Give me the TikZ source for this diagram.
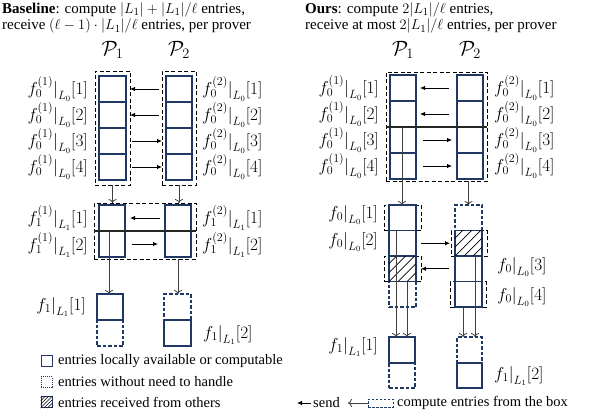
\documentclass[tikz,border=0pt]{standalone}
\usepackage{fontspec}
\setmainfont{Liberation Serif}
\usetikzlibrary{arrows.meta}
\definecolor{navy}{RGB}{32,56,100}
\newcommand{\hatchcell}[2]{%
  \begin{scope}
    \clip (#1.south west) rectangle (#1.north east);
    \foreach \k in {-5,...,5} \draw[line width=0.7pt] ([xshift={\k*#2}]#1.south west) -- ++(40,-40);
  \end{scope}}
\begin{document}
\begin{tikzpicture}[x=1pt,y=-1pt,
  cell/.style={draw=navy, line width=1.2pt, minimum width=27pt, minimum height=26pt, inner sep=0pt, outer sep=0pt},
  dcell/.style={cell, dash pattern=on 3.5pt off 2pt},
  grp/.style={draw=black, line width=0.8pt, dash pattern=on 4pt off 2.5pt, inner sep=0pt, outer sep=0pt},
  send/.style={-{Latex[length=5pt,width=4.5pt]}, line width=0.8pt},
  comp/.style={-{To[length=4pt,width=8pt]}, line width=0.8pt, draw=black!75},
  lab/.style={font=\fontsize{17}{19}\selectfont, inner sep=0pt},
  plab/.style={font=\fontsize{21}{22}\selectfont, inner sep=0pt},
  leg/.style={font=\fontsize{14.5}{16}\selectfont, inner sep=0pt},
  hdr/.style={font=\fontsize{15}{16}\selectfont, inner sep=0pt}]
\useasboundingbox (0,0) rectangle (613,417);

% ---------- headers ----------
\node[hdr, anchor=base west] (h1) at (2,13.5) {\textbf{Baseline}: compute $|L_1|+|L_1|/\ell$ entries,};
\node[hdr, anchor=base west] (h2) at (2,30) {receive $(\ell-1)\cdot|L_1|/\ell$ entries, per prover};
\node[hdr, anchor=base west] (h3) at (305,13.5) {\textbf{Ours}: compute $2|L_1|/\ell$ entries,};
\node[hdr, anchor=base west] (h4) at (305,30) {receive at most $2|L_1|/\ell$ entries, per prover};

% ---------- left: stage 1 ----------
\node[plab] (PA) at (112.5,50) {$\mathcal{P}_1$};
\node[plab] (PB) at (179,50) {$\mathcal{P}_2$};
\node[grp, minimum width=35pt, minimum height=114pt] (DA) at (112.5,128) {};
\node[grp, minimum width=34pt, minimum height=114pt] (DB) at (179,128) {};
\foreach \i/\y in {1/89,2/115,3/141,4/167} {
  \node[cell] (A\i) at (112.5,\y) {};
  \node[cell, minimum width=26pt] (B\i) at (179,\y) {};
  \node[lab, anchor=east] (la\i) at (88,\y) {$f_0^{(1)}\big|_{L_0}[\i]$};
  \node[lab, anchor=west] (lb\i) at (202,\y) {$f_0^{(2)}\big|_{L_0}[\i]$};
}
\draw[send, shorten <=3pt] (DB.west |- A1) -- (DA.east |- A1);
\draw[send, shorten <=3pt] (DB.west |- A2) -- (DA.east |- A2);
\draw[send, shorten <=2pt] (DA.east |- A3) -- (DB.west |- A3);
\draw[send, shorten <=2pt] (DA.east |- A4) -- (DB.west |- A4);

% ---------- left: stage 2 ----------
\node[grp, minimum width=102pt, minimum height=56pt] (E) at (145,231) {};
\node[cell, minimum width=26pt] (C1) at (112,218) {};
\node[cell, minimum width=26pt] (C2) at (112,244) {};
\node[cell, minimum width=26pt] (D1) at (178,218) {};
\node[cell, minimum width=26pt] (D2) at (178,244) {};
\draw[line width=1.2pt, black!85] (E.west) -- (E.east);
\draw[comp] (DA.south) -- (DA.south |- E.north);
\draw[comp] (DB.south) -- (DB.south |- E.north);
\draw[send, shorten <=5pt, shorten >=5pt] (D1.west) -- (C1.east);
\draw[send, shorten <=7pt, shorten >=7pt] (C2.east) -- (D2.west);
\node[lab, anchor=east] (lc1) at (88,218) {$f_1^{(1)}\big|_{L_1}[1]$};
\node[lab, anchor=east] (lc2) at (88,245) {$f_1^{(1)}\big|_{L_1}[2]$};
\node[lab, anchor=west] (ld1) at (202,218) {$f_1^{(2)}\big|_{L_1}[1]$};
\node[lab, anchor=west] (ld2) at (202,245) {$f_1^{(2)}\big|_{L_1}[2]$};

% ---------- left: result ----------
\node[dcell, minimum width=26pt] (F2) at (110,333) {};
\node[cell, minimum width=26pt] (F1) at (110,307) {};
\node[dcell] (G1) at (177.5,307) {};
\node[cell] (G2) at (177.5,333) {};
\coordinate (v1) at ([xshift=-3pt]C2.north);
\draw[comp] (v1) -- (v1 |- F1.north);
\coordinate (v2) at (E.south -| D2);
\draw[comp] (v2) -- (v2 |- G1.north);
\node[lab, anchor=east] (lf1) at (86,307) {$f_1\big|_{L_1}[1]$};
\node[lab, anchor=west] (lf2) at (203,335) {$f_1\big|_{L_1}[2]$};

% ---------- left legend ----------
\node[draw=navy, line width=1pt, minimum size=11pt, inner sep=0pt] (k1) at (46.5,361) {};
\node[leg, anchor=west] (t1) at (58,361) {entries locally available or computable};
\node[draw=navy, line width=0.9pt, dash pattern=on 1pt off 1pt, minimum size=11pt, inner sep=0pt] (k2) at (46.5,382) {};
\node[leg, anchor=west] (t2) at (58,382) {entries without need to handle};
\node[draw=navy, line width=1pt, minimum size=11pt, inner sep=0pt] (k3) at (46.5,402) {};
\hatchcell{k3}{3.5}
\node[leg, anchor=west] (t3) at (58,402) {entries received from others};

% ---------- right: stage 1 ----------
\node[plab] (PC) at (403,50) {$\mathcal{P}_1$};
\node[plab] (PD) at (470,50) {$\mathcal{P}_2$};
\node[grp, minimum width=101pt, minimum height=109pt] (T) at (436.5,126.5) {};
\foreach \i/\y in {1/88,2/114,3/140,4/166} {
  \node[cell, minimum width=26pt] (R\i) at (403,\y) {};
  \node[cell, minimum width=26pt] (S\i) at (470,\y) {};
  \node[lab, anchor=east] (lr\i) at (379,\y) {$f_0^{(1)}\big|_{L_0}[\i]$};
  \node[lab, anchor=west] (ls\i) at (494,\y) {$f_0^{(2)}\big|_{L_0}[\i]$};
}
\draw[line width=1.2pt, black!85] (T.west |- R3.north) -- (T.east |- R3.north);
\draw[send, shorten <=8pt, shorten >=4pt] (S1.west) -- (R1.east);
\draw[send, shorten <=8pt, shorten >=4pt] (S2.west) -- (R2.east);
\draw[send, shorten <=7pt, shorten >=5pt] (R3.east) -- (S3.west);
\draw[send, shorten <=7pt, shorten >=5pt] (R4.east) -- (S4.west);

% ---------- right: stage 2 ----------
\node[grp, minimum width=37pt, minimum height=25.5pt] (gU1) at (402.5,217.75) {};
\node[grp, minimum width=37pt, minimum height=25.5pt] (gU3) at (402.5,268.75) {};
\node[grp, minimum width=36pt, minimum height=25.5pt] (gV2) at (469,243.25) {};
\node[grp, minimum width=36pt, minimum height=25.5pt] (gV4) at (468,294.25) {};
\node[dcell, minimum height=25.5pt] (U4) at (402.5,294.25) {};
\node[dcell, minimum height=25.5pt] (V1) at (468.5,217.75) {};
\node[cell, minimum height=25.5pt] (U1) at (402.5,217.75) {};
\node[cell, minimum height=25.5pt] (U2) at (402.5,243.25) {};
\node[cell, minimum height=25.5pt] (U3) at (402.5,268.75) {};
\node[cell, minimum height=25.5pt] (V2) at (468.5,243.25) {};
\node[cell, minimum height=25.5pt] (V3) at (468.5,268.75) {};
\node[cell, minimum height=25.5pt] (V4) at (468.5,294.25) {};
\hatchcell{U3}{9}
\hatchcell{V2}{9}
\coordinate (v3) at ([xshift=-1pt]R3.north);
\draw[comp] (v3) -- (v3 |- U1.north);
\coordinate (v4) at (T.south -| V1);
\draw[comp] (v4) -- (v4 |- V1.north);
\draw[send, shorten <=5pt, shorten >=1pt] (U2.east) -- (gV2.west);
\draw[send, shorten <=6pt] (V3.west) -- (gU3.east |- V3.west);
\node[lab, anchor=east] (lu1) at (378,215) {$f_0\big|_{L_0}[1]$};
\node[lab, anchor=east] (lu2) at (378,242) {$f_0\big|_{L_0}[2]$};
\node[lab, anchor=west] (lv3) at (497,267) {$f_0\big|_{L_0}[3]$};
\node[lab, anchor=west] (lv4) at (497,297) {$f_0\big|_{L_0}[4]$};

% ---------- right: result ----------
\node[dcell, minimum width=26pt, minimum height=25pt] (W2) at (402,375.5) {};
\node[cell, minimum width=26pt] (W1) at (402,350) {};
\node[dcell, minimum width=25pt] (X1) at (469.5,350) {};
\node[cell, minimum width=25pt, minimum height=25pt] (X2) at (469.5,375.5) {};
\coordinate (w1) at ([xshift=-6.5pt]U2.north);
\coordinate (w2) at ([xshift=4.5pt]U4.north);
\coordinate (w3) at ([xshift=-5.5pt]V4.south);
\coordinate (w4) at ([xshift=6.5pt]V3.north);
\draw[comp] (w1) -- (w1 |- W1.north);
\draw[comp] (w2) -- (w2 |- W1.north);
\draw[comp] (w3) -- (w3 |- X1.north);
\draw[comp] (w4) -- (w4 |- X1.north);
\node[lab, anchor=east] (lw1) at (378,347) {$f_1\big|_{L_1}[1]$};
\node[lab, anchor=west] (lx2) at (494,376) {$f_1\big|_{L_1}[2]$};

% ---------- right legend ----------
\coordinate (s0) at (311,403);
\coordinate (s1) at (297,403);
\draw[send] (s0) -- (s1);
\node[leg, anchor=west] (ts) at (313,403) {send};
\node[draw=navy, line width=0.8pt, dash pattern=on 2.5pt off 1.5pt, minimum width=25pt, minimum height=8pt, inner sep=0pt] (kb) at (380.5,403) {};
\coordinate (s2) at (348,403);
\draw[comp] (kb.west) -- (s2);
\node[leg, anchor=west] (tc) at (397,403) {compute entries from the box};
\end{tikzpicture}
\end{document}
